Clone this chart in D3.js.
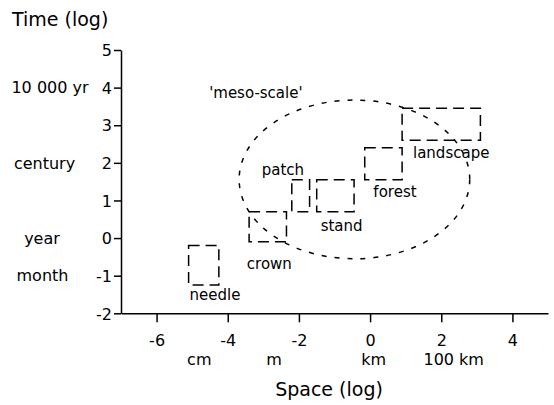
<!DOCTYPE html>
<html>
<head>
<meta charset="utf-8">
<script src="https://cdn.jsdelivr.net/npm/d3@7"></script>
<style>
  html, body { margin: 0; padding: 0; background: #fff; }
  svg { display: block; font-family: "DejaVu Sans", sans-serif; }
</style>
</head>
<body>
<svg id="chart" width="554" height="405"></svg>
<script>
// ---- data (log10 units) ----
const xTicks = [-6, -4, -2, 0, 2, 4];
const yTicks = [-2, -1, 0, 1, 2, 3, 4, 5];
const xUnitLabels = ["cm", "m", "km", "100 km"];
const xUnitPos = [-4.8, -2.7, 0.1, 2.35];
const yUnitLabels = ["10 000 yr", "century", "year", "month"];
const yUnitPos = [4, 2, 0, -1];

const scaleNames = ["needle", "crown", "patch", "stand", "forest", "landscape"];
const spaceMin = [-5.1, -3.4, -2.2, -1.5, -0.15, 0.9];
const spaceMax = [-4.25, -2.35, -1.7, -0.45, 0.9, 3.1];
const timeMin = [-1.25, -0.1, 0.7, 0.7, 1.55, 2.6];
const timeMax = [-0.2, 0.7, 1.55, 1.55, 2.4, 3.45];
const labelX = [-4.36, -2.83, -2.45, -0.8, 0.7, 2.28];
const labelY = [-1.65, -0.83, 1.68, 0.19, 1.09, 2.12];

const mesoLabel = "'meso-scale'";
const mesoLabelPos = [-3.21, 3.72];
const mesoCenter = [-0.44, 1.56];
const mesoRadius = [3.24, 2.11];

// ---- layout ----
const svg = d3.select("#chart");
const x = d3.scaleLinear().domain([-7, 5]).range([121, 548]);
const y = d3.scaleLinear().domain([-2, 5]).range([313.3, 50]);

// axes
const gx = svg.append("g").attr("transform", `translate(0,${y(-2)})`)
  .call(d3.axisBottom(x).tickValues(xTicks).tickSize(9).tickSizeOuter(0).tickFormat(d3.format("d")));
const gy = svg.append("g").attr("transform", `translate(${x(-7)},0)`)
  .call(d3.axisLeft(y).tickValues(yTicks).tickSize(7).tickSizeOuter(0).tickFormat(d3.format("d")));

[gx, gy].forEach(g => {
  g.select(".domain").attr("stroke", "#000").attr("stroke-width", 1.5);
  g.selectAll(".tick line").attr("stroke", "#000").attr("stroke-width", 1.5);
  g.selectAll(".tick text").attr("font-family", "DejaVu Sans, sans-serif")
    .attr("font-size", 16).attr("fill", "#000");
});
gx.selectAll(".tick text").attr("y", 21).attr("dy", "0.71em");
gy.selectAll(".tick text").attr("x", -9).attr("dy", "0.36em").text(d => d < 0 ? "-" + Math.abs(d) : d);
gx.selectAll(".tick text").text(d => d < 0 ? "-" + Math.abs(d) : d);

// unit labels
svg.append("g").selectAll("text").data(xUnitLabels).join("text")
  .attr("x", (d, i) => x(xUnitPos[i])).attr("y", 365)
  .attr("text-anchor", "middle").attr("font-size", 16).text(d => d);

const yUnitDx = [50, 44.5, 42, 42.5];
svg.append("g").selectAll("text").data(yUnitLabels).join("text")
  .attr("x", (d, i) => yUnitDx[i]).attr("y", (d, i) => y(yUnitPos[i]))
  .attr("dy", "0.36em").attr("text-anchor", "middle").attr("font-size", 16).text(d => d);

// axis titles
svg.append("text").attr("x", 12).attr("y", 26).attr("font-size", 19).text("Time (log)");
svg.append("text").attr("x", 329).attr("y", 396).attr("text-anchor", "middle").attr("font-size", 19).text("Space (log)");

// meso-scale ellipse
svg.append("ellipse")
  .attr("cx", x(mesoCenter[0])).attr("cy", y(mesoCenter[1]))
  .attr("rx", x(mesoCenter[0] + mesoRadius[0]) - x(mesoCenter[0]))
  .attr("ry", y(mesoCenter[1]) - y(mesoCenter[1] + mesoRadius[1]))
  .attr("fill", "none").attr("stroke", "#000").attr("stroke-width", 1.5)
  .attr("stroke-dasharray", "5,8");
svg.append("text").attr("x", x(mesoLabelPos[0])).attr("y", y(mesoLabelPos[1]))
  .attr("text-anchor", "middle").attr("font-size", 15).text(mesoLabel);

// scale boxes
svg.append("g").selectAll("rect").data(scaleNames).join("rect")
  .attr("x", (d, i) => x(spaceMin[i]))
  .attr("y", (d, i) => y(timeMax[i]))
  .attr("width", (d, i) => x(spaceMax[i]) - x(spaceMin[i]))
  .attr("height", (d, i) => y(timeMin[i]) - y(timeMax[i]))
  .attr("fill", "none").attr("stroke", "#000").attr("stroke-width", 1.5)
  .attr("stroke-dasharray", "11,6");

svg.append("g").selectAll("text").data(scaleNames).join("text")
  .attr("x", (d, i) => x(labelX[i])).attr("y", (d, i) => y(labelY[i]))
  .attr("text-anchor", "middle").attr("font-size", 15).text(d => d);
</script>
</body>
</html>
